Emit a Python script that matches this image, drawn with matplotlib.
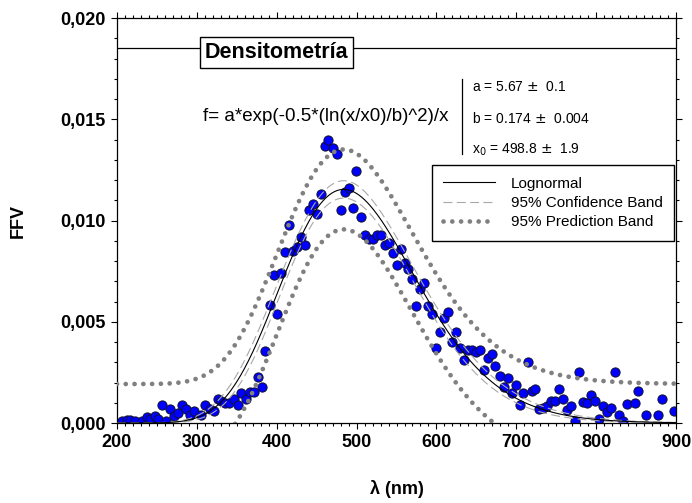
import numpy as np
import matplotlib
matplotlib.use("Agg")
import matplotlib.pyplot as plt
from matplotlib.lines import Line2D

plt.rcParams['font.family'] = ['Liberation Sans', 'DejaVu Sans']

# measured points (wavelength nm, FFV)
wl = [206, 212, 216, 222, 231, 237, 242, 248, 251, 256, 261, 267, 272, 276, 282,
      286, 291, 296, 305, 310, 316, 321, 326, 330, 335, 340, 346, 351, 355, 361,
      366, 371, 377, 381, 385, 391, 396, 401, 406, 411, 416, 420, 426, 430, 436,
      440, 445, 450, 455, 460, 464, 471, 475, 480, 485, 490, 495, 499, 505, 510,
      515, 520, 525, 530, 535, 540, 545, 550, 555, 561, 565, 570, 575, 580, 585,
      590, 595, 600, 605, 610, 615, 620, 625, 630, 635, 640, 645, 650, 655, 659,
      664, 670, 673, 679, 684, 689, 694, 699, 704, 708, 714, 719, 723, 729, 733,
      738, 743, 748, 753, 758, 763, 768, 773, 778, 783, 789, 794, 799, 804, 809,
      813, 818, 823, 828, 833, 838, 848, 852, 862, 877, 882, 897]
ffv = [0.0001, 0.00015, 0.00015, 0.00012, 0.00012, 0.0003, 0.0002, 0.00035, 0.0002, 0.00087,
       0.0001, 0.0007, 0.00035, 0.0005, 0.0009, 0.0007, 0.0004, 0.0006, 0.0004, 0.00087,
       0.0007, 0.0006, 0.0012, 0.0011, 0.001, 0.001, 0.0012, 0.0009, 0.00147, 0.0012,
       0.00155, 0.00155, 0.00226, 0.0018, 0.00356, 0.00583, 0.0073, 0.0054, 0.0074, 0.00846,
       0.0098, 0.0085, 0.0087, 0.0092, 0.0088, 0.0105, 0.0108, 0.0103, 0.0113, 0.0137,
       0.0140, 0.0136, 0.0133, 0.0105, 0.0114, 0.0116, 0.0106, 0.01244, 0.0102, 0.0093,
       0.0091, 0.0091, 0.0093, 0.0093, 0.0088, 0.0089, 0.0084, 0.0078, 0.0086, 0.0079,
       0.0076, 0.0071, 0.0058, 0.0066, 0.0069, 0.0058, 0.0054, 0.0037, 0.0045, 0.0052,
       0.0055, 0.0040, 0.0045, 0.0037, 0.0031, 0.0036, 0.0036, 0.0035, 0.0036, 0.0026,
       0.0032, 0.0034, 0.0028, 0.0023, 0.0018, 0.0022, 0.0015, 0.0019, 0.0009, 0.0015,
       0.0030, 0.0016, 0.0017, 0.0007, 0.00075, 0.00084, 0.0011, 0.0011, 0.0017, 0.0012,
       0.00064, 0.00085, 0.0001, 0.0025, 0.00105, 0.001, 0.0014, 0.0011, 0.0002, 0.00084,
       0.00054, 0.00076, 0.0025, 0.0004, 0.0001, 0.00095, 0.001, 0.0016, 0.0004, 0.0004,
       0.0012, 0.0006]

# fitted lognormal parameters (as reported on the chart)
a, b, x0 = 5.67, 0.174, 498.8
xticks = [200, 300, 400, 500, 600, 700, 800, 900]
yticks = [0.0, 0.005, 0.010, 0.015, 0.020]
ytick_labels = ['0,000', '0,005', '0,010', '0,015', '0,020']


def lognormal(x):
    return a * np.exp(-0.5 * (np.log(x / x0) / b) ** 2) / x


def jac(x):
    f = lognormal(x)
    u = np.log(x / x0) / b
    return np.column_stack([f / a, f * u ** 2 / b, f * u / (b * x0)])


# 95% confidence / prediction bands from the residuals
xd = np.array(wl, float)
yd = np.array(ffv)
J = jac(xd)
dof = len(xd) - 3
s2 = np.sum((yd - lognormal(xd)) ** 2) / dof
cov = s2 * np.linalg.inv(J.T @ J)
t95 = 1.98

xs = np.linspace(200, 900, 400)
fit = lognormal(xs)
G = jac(xs)
se_fit = np.sqrt(np.einsum('ij,jk,ik->i', G, cov, G))
conf = t95 * se_fit
pred = t95 * np.sqrt(s2 + se_fit ** 2)

fig = plt.figure(figsize=(6.92, 5.03), dpi=100)
ax = fig.add_axes([0.169, 0.159, 0.808, 0.805])

dot_style = dict(color='#808080', lw=3.4, linestyle=(0, (0.01, 1.85)),
                 dash_capstyle='round')
ax.plot(xs, fit + pred, zorder=3, **dot_style)
ax.plot(xs, fit - pred, zorder=3, **dot_style)
ax.scatter(wl, ffv, s=44, facecolor='#0000ff', edgecolor='#101030',
           linewidth=0.7, zorder=2)
ax.plot(xs, fit + conf, color='#a8a8a8', lw=0.8, ls=(0, (8, 4)), zorder=4)
ax.plot(xs, fit - conf, color='#a8a8a8', lw=0.8, ls=(0, (8, 4)), zorder=4)
ax.plot(xs, fit, color='black', lw=0.8, zorder=5)

ax.axhline(0.01852, color='black', lw=0.9, zorder=1)
ax.text(0.2855, 0.915, 'Densitometría', transform=ax.transAxes, fontsize=15.5,
        fontweight='bold', ha='center', va='center', zorder=6,
        bbox=dict(boxstyle='square,pad=0.22', fc='white', ec='black', lw=1))

ax.text(0.154, 0.757, 'f= a*exp(-0.5*(ln(x/x0)/b)^2)/x', transform=ax.transAxes,
        fontsize=13.5, ha='left', va='center')
ax.plot([0.617, 0.617], [0.665, 0.85], transform=ax.transAxes, color='black',
        lw=0.9, clip_on=False)
params = ['a = 5.67 $\\pm$  0.1', 'b = 0.174 $\\pm$  0.004', 'x$_0$ = 498.8 $\\pm$  1.9']
for i, p in enumerate(params):
    ax.text(0.635, 0.83 - i * 0.077, p, transform=ax.transAxes, fontsize=10,
            ha='left', va='center')

handles = [Line2D([], [], color='black', lw=0.8),
           Line2D([], [], color='#a8a8a8', lw=0.8, ls=(0, (8, 4))),
           Line2D([], [], **dot_style)]
leg = ax.legend(handles, ['Lognormal', '95% Confidence Band', '95% Prediction Band'],
                loc='upper left', bbox_to_anchor=(0.5635, 0.637), borderaxespad=0,
                fontsize=11, handlelength=3.4, handletextpad=1.0,
                labelspacing=0.35, borderpad=0.75, fancybox=False, framealpha=1)
leg.get_frame().set_edgecolor('black')
leg.get_frame().set_linewidth(1)
leg.set_zorder(7)

ax.set_xlim(200, 900)
ax.set_ylim(0, 0.020)
ax.set_xticks(xticks)
ax.set_xticklabels([str(v) for v in xticks])
ax.set_xticks(np.arange(200, 901, 10), minor=True)
ax.set_yticks(yticks)
ax.set_yticklabels(ytick_labels)
ax.set_yticks(np.arange(0, 0.0201, 0.001), minor=True)
ax.tick_params(which='both', direction='out', top=True, right=True, width=0.8)
ax.tick_params(which='major', length=4.5, labelsize=13)
ax.tick_params(which='minor', length=2.5)
for lab in ax.get_xticklabels() + ax.get_yticklabels():
    lab.set_fontweight('bold')
for sp in ax.spines.values():
    sp.set_linewidth(0.9)

ax.set_xlabel('λ (nm)', fontsize=13, fontweight='bold', labelpad=21)
ax.set_ylabel('FFV', fontsize=13, fontweight='bold', labelpad=24)

fig.savefig('out.png', dpi=100)
